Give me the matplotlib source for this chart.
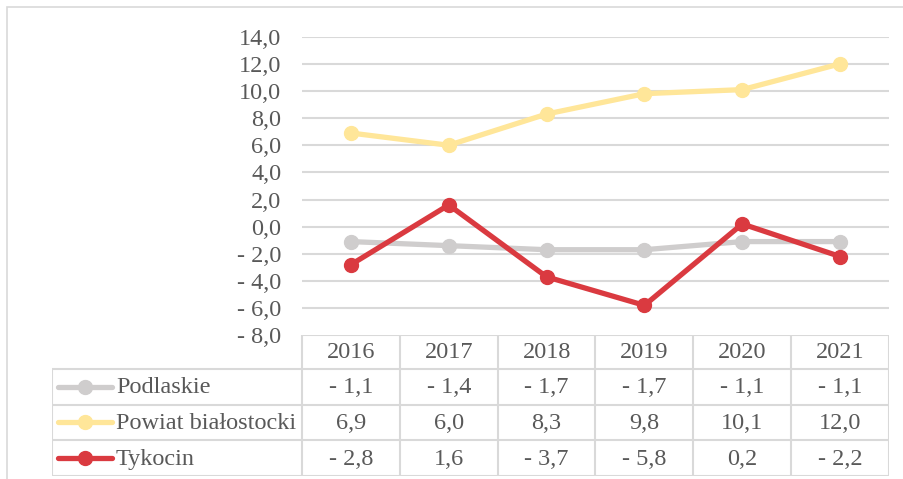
import numpy as np
import matplotlib.pyplot as plt
from matplotlib.lines import Line2D
from matplotlib.patches import Rectangle

years = ['2016', '2017', '2018', '2019', '2020', '2021']
series_names = ['Podlaskie', 'Powiat białostocki', 'Tykocin']
podlaskie = [-1.1, -1.4, -1.7, -1.7, -1.1, -1.1]
powiat = [6.9, 6.0, 8.3, 9.8, 10.1, 12.0]
tykocin = [-2.8, 1.6, -3.7, -5.8, 0.2, -2.2]
colors = ['#CFCDCD', '#FFE699', '#DA3A40']
y_ticks = np.arange(-8, 15, 2)

plt.rcParams['font.family'] = ['Liberation Serif', 'DejaVu Serif']
txt = '#595959'
grid = '#D9D9D9'
fs = 17.5

W, H = 904, 479
fig = plt.figure(figsize=(W / 100, H / 100), dpi=100)


def box(x0, y0, x1, y1):
    # pixel box (top-left origin) -> figure fraction rect
    return [x0 / W, 1 - y1 / H, (x1 - x0) / W, (y1 - y0) / H]


def fmt(v):
    s = f'{abs(v):.1f}'.replace('.', ',')
    return '- ' + s if v < 0 else s


# outer chart border
fig.patches.append(Rectangle((7 / W, -0.1), 1.2, 1 - 7 / H + 0.1, transform=fig.transFigure,
                             fill=False, ec=grid, lw=1.2))

# plot area
ax = fig.add_axes(box(302, 36.7, 889, 335.2))
ax.set_xlim(-0.5, 5.5)
ax.set_ylim(-8, 14)
for s in ax.spines.values():
    s.set_visible(False)
ax.set_yticks(y_ticks)
ax.set_yticklabels([fmt(v) for v in y_ticks])
ax.tick_params(axis='y', length=0, pad=15, labelsize=fs, labelcolor=txt)
ax.set_xticks([])
for v in y_ticks[1:]:
    ax.axhline(v, color=grid, lw=1.5, zorder=0)

x = np.arange(len(years))
for vals, c in zip([podlaskie, powiat, tykocin], colors):
    ax.plot(x, vals, color=c, lw=3.8, marker='o', ms=10, solid_capstyle='round', zorder=3)

# data table
tb = fig.add_axes(box(52, 335.2, 889, 476))
tb.set_xlim(52, 889)
tb.set_ylim(476, 335.2)
tb.axis('off')
cols = np.linspace(302, 889, 7)
rows = [335.2, 368.5, 404.5, 440.3, 476]
lk = dict(color=grid, lw=1.5, solid_capstyle='butt')
# header row (year columns only)
tb.plot([302, 889], [rows[0], rows[0]], **lk)
for r in rows[1:]:
    tb.plot([52, 889], [r, r], **lk)
for cx in cols:
    tb.plot([cx, cx], [rows[0], rows[-1]], **lk)
tb.plot([52, 52], [rows[1], rows[-1]], **lk)

for j, yr in enumerate(years):
    tb.text((cols[j] + cols[j + 1]) / 2, (rows[0] + rows[1]) / 2 + 1, yr,
            ha='center', va='center', fontsize=fs, color=txt)

for i, (name, vals, c) in enumerate(zip(series_names, [podlaskie, powiat, tykocin], colors)):
    ym = (rows[i + 1] + rows[i + 2]) / 2
    tb.add_line(Line2D([58, 112], [ym, ym], color=c, lw=3.8, solid_capstyle='round'))
    tb.add_line(Line2D([85], [ym], color=c, marker='o', ms=10))
    tb.text(116, ym + 1, name, ha='left', va='center', fontsize=fs, color=txt)
    for j, v in enumerate(vals):
        tb.text((cols[j] + cols[j + 1]) / 2, ym + 1, fmt(v),
                ha='center', va='center', fontsize=fs, color=txt)

fig.savefig('out.png', dpi=100)
